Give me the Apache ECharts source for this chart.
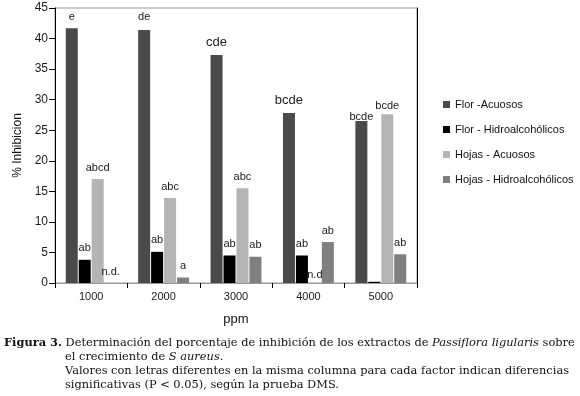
<!DOCTYPE html>
<html>
<head>
<meta charset="utf-8">
<script src="https://cdn.jsdelivr.net/npm/echarts@6/dist/echarts.min.js"></script>
<style>
  html, body { margin: 0; padding: 0; background: #fff; }
  #main { width: 580px; height: 396px; }
</style>
</head>
<body>
<div id="main"></div>
<script>
// datos
var categories = ['1000', '2000', '3000', '4000', '5000'];
var seriesNames = ['Flor -Acuosos', 'Flor - Hidroalcohólicos', 'Hojas - Acuosos', 'Hojas - Hidroalcohólicos'];
var florAcuosos = [41.7, 41.4, 37.3, 27.8, 26.5];
var florHidro = [3.8, 5.1, 4.5, 4.5, 0.2];
var hojasAcuosos = [17.0, 13.9, 15.5, 0, 27.6];
var hojasHidro = [0, 0.9, 4.3, 6.7, 4.7];
var florAcuososLetras = ['e', 'de', 'cde', 'bcde', 'bcde'];
var florHidroLetras = ['ab', 'ab', 'ab', 'ab', ''];
var hojasAcuososLetras = ['abcd', 'abc', 'abc', 'n.d', 'bcde'];
var hojasHidroLetras = ['n.d.', 'a', 'ab', 'ab', 'ab'];
var yTicks = [0, 5, 10, 15, 20, 25, 30, 35, 40, 45];

var colores = ['#4a4a4a', '#000000', '#b4b4b4', '#7f7f7f'];
var sans = 'Liberation Sans';
var serif = 'DejaVu Serif';

// ajustes de etiquetas (serie-indice)
var ajustes = {
    '0-2': { fontSize: 13 },
    '0-3': { fontSize: 13 },
    '0-4': { distance: -1 },
    '0-1': { distance: 8 },
    '2-4': { distance: 3 },
    '2-3': { distance: 3 }
};

function armar(idx, valores, letras) {
    return valores.map(function (v, i) {
        var extra = ajustes[idx + '-' + i] || {};
        return {
            value: v,
            label: Object.assign({
                show: letras[i] !== '',
                position: 'top',
                distance: 6,
                formatter: letras[i],
                fontFamily: sans,
                fontSize: 11,
                color: '#1a1a1a'
            }, extra)
        };
    });
}

var datos = [
    armar(0, florAcuosos, florAcuososLetras),
    armar(1, florHidro, florHidroLetras),
    armar(2, hojasAcuosos, hojasAcuososLetras),
    armar(3, hojasHidro, hojasHidroLetras)
];

var capFont = 11.4;
var chart = echarts.init(document.getElementById('main'));
chart.setOption({
    animation: false,
    backgroundColor: '#fff',
    color: colores,
    grid: {
        left: 55, right: 163, top: 8, bottom: 113, containLabel: false,
        show: true, borderColor: '#999', borderWidth: 1, backgroundColor: 'transparent'
    },
    legend: {
        orient: 'vertical',
        left: 438,
        top: 94,
        itemWidth: 7,
        itemHeight: 7,
        itemGap: 14,
        icon: 'rect',
        data: seriesNames,
        textStyle: { fontFamily: sans, fontSize: 11, color: '#111' }
    },
    xAxis: {
        type: 'category',
        data: categories,
        name: 'ppm',
        nameLocation: 'middle',
        nameGap: 30,
        nameTextStyle: { fontFamily: sans, fontSize: 13, color: '#111' },
        axisLine: { lineStyle: { color: '#999', width: 1 } },
        axisTick: { show: true, length: 5, lineStyle: { color: '#000' } },
        axisLabel: { margin: 8, fontFamily: sans, fontSize: 11, color: '#1a1a1a' }
    },
    yAxis: [{
        type: 'value',
        min: yTicks[0],
        max: yTicks[yTicks.length - 1],
        interval: 5,
        name: '% Inhibicion',
        nameLocation: 'middle',
        nameRotate: 90,
        nameGap: 29,
        nameTextStyle: { fontFamily: sans, fontSize: 12, color: '#111' },
        axisLine: { show: true, lineStyle: { color: '#000' } },
        axisTick: { show: true, length: 6, lineStyle: { color: '#000' } },
        axisLabel: { margin: 7, fontFamily: sans, fontSize: 12, color: '#1a1a1a' },
        splitLine: { show: false }
    }, {
        type: 'value',
        position: 'right',
        min: yTicks[0],
        max: yTicks[yTicks.length - 1],
        interval: 5,
        axisLine: { show: true, onZero: false, lineStyle: { color: '#000' } },
        axisTick: { show: false },
        axisLabel: { show: false },
        splitLine: { show: false }
    }],
    series: seriesNames.map(function (n, k) {
        return {
            name: n,
            type: 'bar',
            barWidth: 12,
            barGap: '8%',
            data: datos[k]
        };
    }),
    graphic: [
        {
            type: 'text', left: 4, top: 338,
            style: {
                text: '{b|Figura 3.} Determinación del porcentaje de inhibición de los extractos de {i|Passiflora ligularis} sobre',
                fontFamily: serif, fontSize: capFont, fill: '#111',
                rich: {
                    b: { fontFamily: serif, fontWeight: 'bold', fontSize: capFont },
                    i: { fontFamily: serif, fontStyle: 'italic', fontSize: capFont }
                }
            }
        },
        {
            type: 'text', left: 65, top: 352,
            style: {
                text: 'el crecimiento de {i|S aureus}.',
                fontFamily: serif, fontSize: capFont, fill: '#111',
                rich: { i: { fontFamily: serif, fontStyle: 'italic', fontSize: capFont } }
            }
        },
        {
            type: 'text', left: 65, top: 366,
            style: {
                text: 'Valores con letras diferentes en la misma columna para cada factor indican diferencias',
                fontFamily: serif, fontSize: capFont, fill: '#111'
            }
        },
        {
            type: 'text', left: 65, top: 380,
            style: {
                text: 'significativas (P < 0.05), según la prueba DMS.',
                fontFamily: serif, fontSize: capFont, fill: '#111'
            }
        }
    ]
});
</script>
</body>
</html>
